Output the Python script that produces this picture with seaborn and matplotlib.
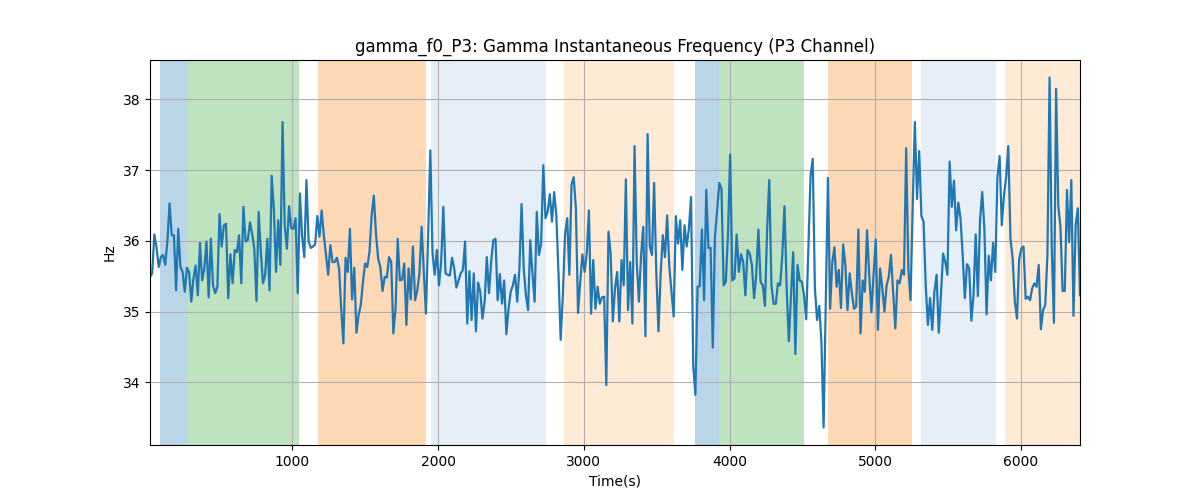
import numpy as np
import pandas as pd
import seaborn as sns
import matplotlib
matplotlib.use("Agg")
import matplotlib.pyplot as plt

# time axis (s): evenly sampled between these
t_start = 22
t_end = 6405

# gamma instantaneous frequency (Hz) left to right
f0_a = [35.49, 35.54, 36.09, 35.91, 35.63, 35.77, 35.80, 35.66, 35.99, 36.53,
        36.08, 36.08, 35.30, 36.17, 35.63, 35.56, 35.28, 35.62, 35.56, 35.14,
        35.47, 35.65, 35.23, 35.97, 35.44, 35.61, 35.99, 35.20, 36.03, 35.37,
        35.26, 35.35, 36.38, 35.92, 36.22, 36.24, 35.19, 35.81, 35.40, 35.87,
        35.84, 36.08, 35.40, 36.48, 35.99, 36.01, 36.26, 36.10, 35.89, 35.15,
        36.41, 35.84, 35.40, 35.52, 36.03, 35.30, 36.92, 36.46, 35.56, 36.29,
        35.66, 37.68, 36.22, 35.89, 36.49, 36.18, 36.17, 36.32, 35.26, 36.67,
        36.06, 35.77, 36.86]
f0_b = [35.99, 35.90, 35.92, 35.95, 36.35, 36.06, 36.43, 36.08, 35.80, 35.52,
        35.94, 35.70, 35.70, 35.76, 35.61, 35.04, 34.55, 35.76, 35.56, 36.17,
        35.17, 35.62, 34.70, 34.95, 35.09, 35.42, 35.68, 35.63, 35.84, 36.36,
        36.64, 36.10, 35.75, 35.63, 35.29, 35.49, 35.48, 35.77, 35.70, 34.69,
        35.04, 36.03, 35.44, 35.45, 35.68, 34.81, 35.61, 35.17, 35.92, 35.16,
        35.30, 35.54, 36.20, 35.56, 34.97, 36.08, 37.28, 35.84, 35.52, 35.87,
        35.37, 35.70, 36.48, 35.54, 35.52, 35.51, 35.76, 35.61, 35.34, 35.44,
        35.54, 35.59]
f0_c = [35.99, 34.83, 35.57, 34.88, 35.54, 34.72, 35.41, 35.28, 34.90, 35.14,
        35.77, 35.26, 35.70, 36.01, 36.03, 35.16, 35.53, 35.11, 35.44, 34.68,
        35.04, 35.28, 35.37, 35.52, 35.14, 35.61, 36.52, 35.61, 35.23, 35.02,
        36.01, 35.54, 35.14, 36.41, 35.80, 35.96, 37.07, 36.32, 36.41, 36.66,
        36.27, 36.69, 36.36, 35.54, 34.60, 35.23, 36.09, 36.32, 35.52, 36.80,
        36.90, 36.46, 34.98, 35.42, 35.81, 35.56, 35.82, 36.43, 34.97, 35.73,
        35.04, 35.35, 35.11, 35.20, 35.21, 33.96, 36.13, 35.82, 34.86]
f0_d = [35.33, 35.56, 34.86, 35.73, 35.37, 36.87, 35.02, 35.70, 34.83, 37.34,
        35.70, 35.14, 35.80, 36.20, 34.65, 37.51, 35.92, 35.80, 36.82, 35.56,
        34.72, 35.52, 36.08, 35.77, 36.36, 35.63, 35.28, 34.93, 36.35, 35.96,
        36.29, 35.59, 36.22, 35.92, 36.17, 36.62, 34.24, 33.82, 35.35, 35.36,
        36.16, 35.16, 36.72, 35.90, 35.90, 34.49, 36.06, 36.43, 36.82, 36.74,
        35.37, 35.42, 36.10, 37.22, 35.44, 35.47, 36.09, 35.56, 35.81, 35.70,
        35.23, 35.87, 35.82, 35.66, 35.19, 35.52, 36.16, 35.42]
f0_e = [35.37, 35.08, 36.15, 36.86, 35.37, 35.11, 35.11, 35.40, 35.37, 35.80,
        36.49, 35.33, 34.58, 35.23, 35.84, 34.40, 35.66, 35.44, 35.42, 35.23,
        34.89, 35.92, 36.92, 37.16, 35.33, 34.88, 35.08, 34.57, 33.36, 35.11,
        36.89, 35.04, 35.70, 35.91, 35.35, 35.59, 35.05, 35.95, 35.66, 35.02,
        35.54, 35.26, 35.04, 35.07, 36.16, 34.69, 35.44, 35.28, 36.15, 35.52,
        34.99, 35.52, 36.02, 34.74, 35.61, 35.33, 35.00, 35.37, 35.49, 35.80,
        35.28, 34.76, 35.44, 35.40, 35.59, 35.52, 37.31, 35.61, 35.16, 36.48,
        37.68, 36.59, 37.27]
f0_f = [36.35, 36.27, 35.37, 34.81, 35.19, 34.74, 35.28, 35.52, 34.70, 35.23,
        35.82, 35.70, 35.52, 37.12, 36.48, 36.85, 36.15, 36.54, 36.32, 35.80,
        35.19, 35.67, 35.61, 34.87, 35.23, 36.09, 35.22, 36.29, 36.69, 36.17,
        34.96, 35.79, 35.44, 35.97, 35.56, 36.90, 37.20, 36.22, 36.64, 36.90,
        37.34, 36.03, 35.75, 35.14, 34.90, 35.74, 35.89, 35.92, 35.18, 35.21,
        35.16, 35.33, 35.40, 35.35, 35.66, 34.75, 35.02, 35.09, 35.80, 38.31,
        35.89, 34.84, 38.15, 36.50, 36.20, 35.29, 35.29, 36.72, 35.98, 36.86,
        34.94, 36.22, 36.46, 35.23]

# shaded segments (start, end) in seconds and their colours
seg_start = [91, 283, 1172, 1948, 2862, 3763, 3928, 4674, 5313, 5890]
seg_end = [283, 1046, 1918, 2738, 3617, 3928, 4514, 5249, 5828, 6500]
seg_color = ["#1f77b4", "#2ca02c", "#ff7f0e", "#aec7e8", "#ffbb78",
             "#1f77b4", "#2ca02c", "#ff7f0e", "#aec7e8", "#ffbb78"]

f0 = f0_a + f0_b + f0_c + f0_d + f0_e + f0_f
df = pd.DataFrame({"time": np.linspace(t_start, t_end, len(f0)), "hz": f0})

fig, ax = plt.subplots(figsize=(12, 5), dpi=100)
for s, e, c in zip(seg_start, seg_end, seg_color):
    ax.axvspan(s, e, color=c, alpha=0.3, lw=0)
sns.lineplot(data=df, x="time", y="hz", color="#1f77b4", linewidth=1.6, ax=ax)
ax.set_xlim(df["time"].min(), df["time"].max())
ax.grid(True)
ax.set_title("gamma_f0_P3: Gamma Instantaneous Frequency (P3 Channel)")
ax.set_xlabel("Time(s)")
ax.set_ylabel("Hz")
plt.savefig("out.png")
